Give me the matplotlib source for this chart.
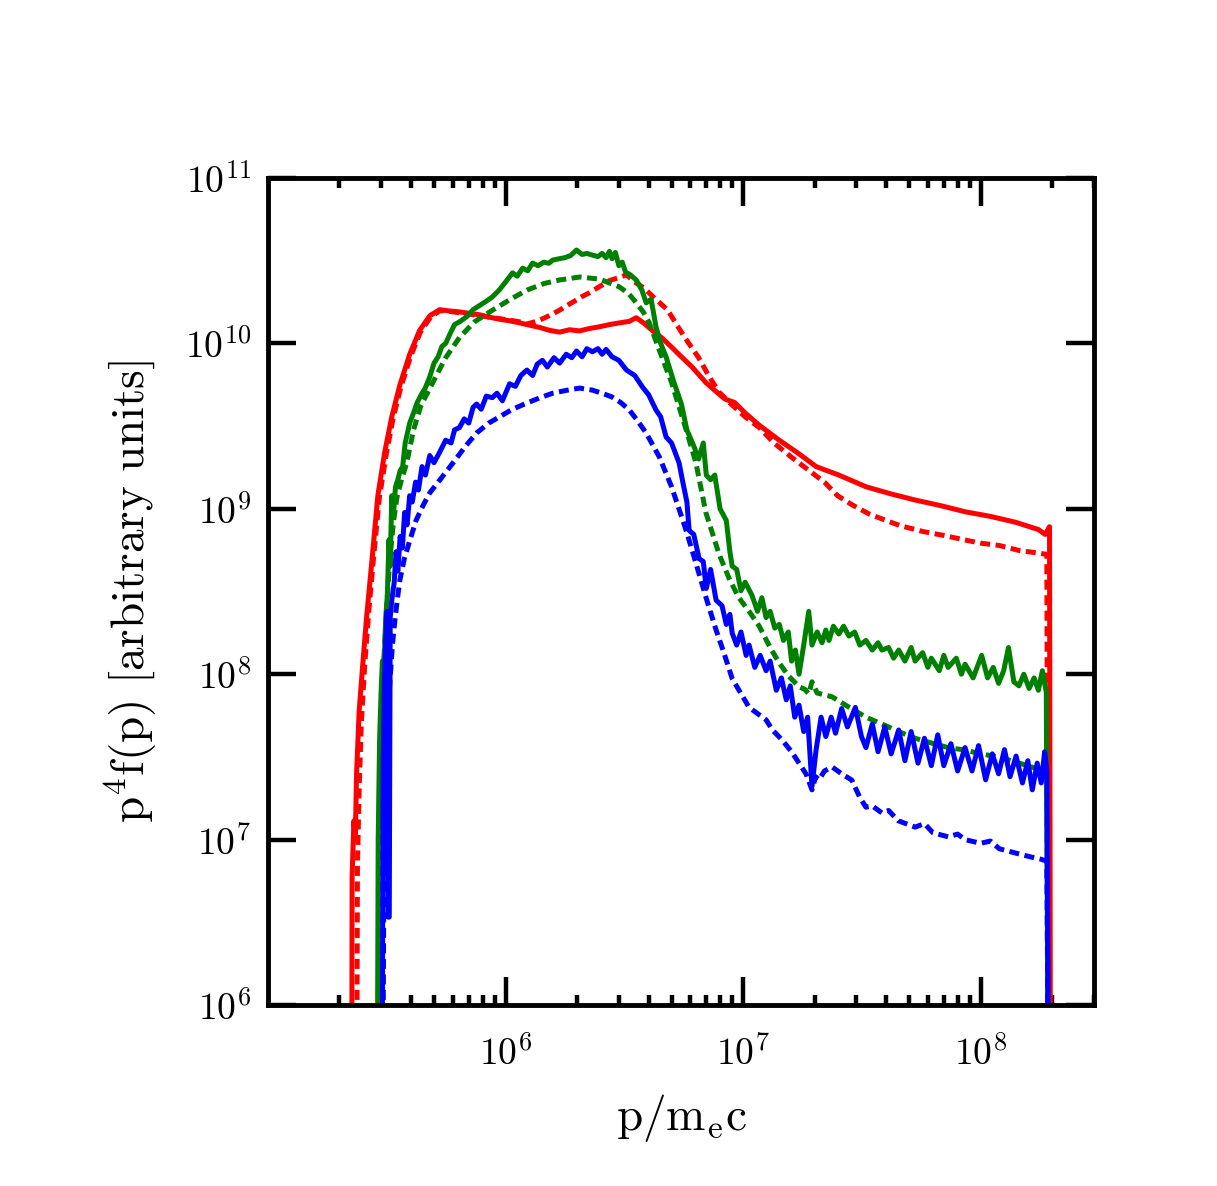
import numpy as np
import matplotlib
matplotlib.use('Agg')
import matplotlib.pyplot as plt
from matplotlib.ticker import LogLocator, NullLocator

# momentum grid (p/m_e c) and p^4 f(p) for each run
rs_p = [2.25e5, 2.26e5, 2.30e5, 2.33e5, 2.36e5, 2.42e5, 2.50e5, 2.60e5, 2.74e5, 2.90e5,
        3.10e5, 3.32e5, 3.59e5, 3.95e5, 4.35e5, 4.80e5, 5.28e5, 5.82e5, 6.41e5, 7.06e5,
        7.78e5, 8.57e5, 9.44e5, 1.04e6, 1.15e6, 1.26e6, 1.39e6, 1.53e6, 1.69e6, 1.86e6,
        2.05e6, 2.25e6, 2.48e6, 2.74e6, 3.01e6, 3.32e6, 3.55e6, 3.84e6, 4.14e6, 4.55e6,
        5.0e6, 5.5e6, 6.1e6, 6.97e6, 7.6e6, 8.4e6, 9.2e6, 1.02e7, 1.17e7, 1.42e7,
        1.72e7, 2.03e7, 2.53e7, 3.29e7, 4.2e7, 5.3e7, 6.7e7, 8.6e7, 1.1e8, 1.4e8,
        1.75e8, 1.87e8, 1.95e8, 1.97e8]
rs_f = [1e5, 6.0e6, 1.3e7, 1.0e7, 2.5e7, 6.0e7, 1.1e8, 2.2e8, 4.9e8, 1.2e9,
        2.2e9, 3.6e9, 5.6e9, 8.6e9, 1.2e10, 1.47e10, 1.6e10, 1.57e10, 1.55e10, 1.52e10,
        1.49e10, 1.44e10, 1.40e10, 1.37e10, 1.33e10, 1.29e10, 1.25e10, 1.20e10, 1.17e10, 1.21e10,
        1.19e10, 1.23e10, 1.26e10, 1.30e10, 1.33e10, 1.36e10, 1.43e10, 1.32e10, 1.20e10, 1.08e10,
        9.5e9, 8.3e9, 7.2e9, 5.8e9, 5.2e9, 4.6e9, 4.4e9, 3.8e9, 3.2e9, 2.6e9,
        2.15e9, 1.8e9, 1.6e9, 1.36e9, 1.23e9, 1.13e9, 1.05e9, 9.6e8, 9.0e8, 8.3e8,
        7.5e8, 7.0e8, 7.8e8, 1e5]

rd_p = [2.36e5, 2.38e5, 2.42e5, 2.47e5, 2.55e5, 2.65e5, 2.78e5, 2.94e5, 3.14e5, 3.36e5,
        3.62e5, 3.98e5, 4.38e5, 4.83e5, 5.3e5, 5.85e5, 6.45e5, 7.1e5, 7.8e5, 8.6e5,
        9.5e5, 1.05e6, 1.15e6, 1.23e6, 1.35e6, 1.45e6, 1.57e6, 1.69e6, 1.82e6, 1.95e6,
        2.1e6, 2.25e6, 2.48e6, 2.74e6, 3.0e6, 3.23e6, 3.5e6, 3.85e6, 4.2e6, 4.8e6,
        5.65e6, 6.5e6, 7.2e6, 7.9e6, 8.9e6, 1.02e7, 1.17e7, 1.35e7, 1.6e7, 1.9e7,
        2.2e7, 2.5e7, 2.9e7, 3.4e7, 4.0e7, 4.6e7, 5.7e7, 7.0e7, 8.5e7, 1.0e8,
        1.2e8, 1.45e8, 1.75e8, 1.9e8, 1.93e8]
rd_f = [1e5, 7.0e6, 2.0e7, 5.0e7, 1.1e8, 2.3e8, 5.0e8, 1.15e9, 2.1e9, 3.5e9,
        5.4e9, 8.3e9, 1.17e10, 1.44e10, 1.58e10, 1.56e10, 1.53e10, 1.5e10, 1.47e10, 1.44e10,
        1.41e10, 1.38e10, 1.35e10, 1.31e10, 1.36e10, 1.42e10, 1.5e10, 1.59e10, 1.7e10, 1.8e10,
        1.92e10, 2.02e10, 2.2e10, 2.4e10, 2.5e10, 2.6e10, 2.35e10, 2.15e10, 1.9e10, 1.6e10,
        1.1e10, 8.2e9, 6.3e9, 5.1e9, 4.3e9, 3.6e9, 3.1e9, 2.5e9, 2.05e9, 1.7e9,
        1.45e9, 1.2e9, 1.05e9, 9.3e8, 8.5e8, 7.9e8, 7.3e8, 6.9e8, 6.5e8, 6.2e8,
        6.0e8, 5.6e8, 5.4e8, 5.3e8, 1e5]

gs_p = [2.88e5, 2.91e5, 2.95e5, 2.99e5, 3.03e5, 3.08e5, 3.13e5, 3.18e5, 3.23e5, 3.27e5,
        3.32e5, 3.37e5, 3.44e5, 3.52e5, 3.60e5, 3.69e5, 3.78e5, 3.87e5, 3.95e5, 4.10e5,
        4.25e5, 4.45e5, 4.60e5, 4.80e5, 5.0e5, 5.2e5, 5.4e5, 5.6e5, 5.85e5, 6.1e5,
        6.4e5, 6.86e5, 7.3e5, 7.8e5, 8.3e5, 8.8e5, 9.4e5, 1.0e6, 1.07e6, 1.12e6,
        1.18e6, 1.24e6, 1.30e6, 1.37e6, 1.45e6, 1.52e6, 1.58e6, 1.68e6, 1.78e6, 1.88e6,
        1.99e6, 2.1e6, 2.2e6, 2.32e6, 2.45e6, 2.55e6, 2.65e6, 2.74e6, 2.81e6, 2.9e6,
        3.0e6, 3.1e6, 3.2e6, 3.35e6, 3.55e6, 3.75e6, 3.91e6, 4.1e6, 4.3e6, 4.5e6,
        4.74e6, 5.1e6, 5.5e6, 5.8e6, 6.2e6, 6.5e6, 6.8e6, 7.0e6, 7.3e6, 7.6e6,
        8.0e6, 8.5e6, 8.8e6, 9.0e6, 9.4e6, 9.8e6, 1.02e7, 1.09e7, 1.15e7, 1.20e7,
        1.25e7, 1.30e7, 1.36e7, 1.42e7, 1.48e7, 1.55e7, 1.60e7, 1.66e7, 1.72e7, 1.80e7,
        1.89e7, 1.95e7, 2.05e7, 2.15e7, 2.23e7, 2.3e7, 2.4e7, 2.53e7, 2.65e7, 2.79e7,
        2.95e7, 3.1e7, 3.29e7, 3.5e7, 3.7e7, 3.84e7, 4.1e7, 4.3e7, 4.52e7, 4.8e7,
        5.1e7, 5.3e7, 5.7e7, 6.0e7, 6.2e7, 6.7e7, 7.0e7, 7.3e7, 7.9e7, 8.3e7,
        8.6e7, 9.3e7, 1.01e8, 1.07e8, 1.13e8, 1.19e8, 1.25e8, 1.31e8, 1.38e8, 1.45e8,
        1.52e8, 1.6e8, 1.68e8, 1.75e8, 1.82e8, 1.89e8, 1.93e8]
gs_f = [1e5, 1.0e7, 4.0e7, 7.5e7, 1.2e8, 1.1e8, 2.2e8, 3.0e8, 6.5e8, 4.5e8,
        1.2e9, 9.0e8, 1.35e9, 1.5e9, 1.7e9, 1.8e9, 2.5e9, 2.9e9, 3.3e9, 3.8e9,
        4.4e9, 5.0e9, 5.4e9, 6.3e9, 7.6e9, 8.3e9, 9.6e9, 1.0e10, 1.15e10, 1.3e10,
        1.35e10, 1.45e10, 1.6e10, 1.7e10, 1.8e10, 1.91e10, 2.1e10, 2.35e10, 2.67e10, 2.55e10,
        2.85e10, 2.75e10, 3.06e10, 2.95e10, 3.1e10, 3.05e10, 3.19e10, 3.25e10, 3.3e10, 3.4e10,
        3.67e10, 3.45e10, 3.5e10, 3.42e10, 3.35e10, 3.5e10, 3.3e10, 3.6e10, 3.25e10, 3.55e10,
        2.95e10, 3.1e10, 2.7e10, 2.6e10, 2.42e10, 2.1e10, 1.76e10, 1.85e10, 1.26e10, 1.0e10,
        8.3e9, 5.9e9, 4.3e9, 3.0e9, 2.4e9, 2.0e9, 2.5e9, 1.6e9, 1.5e9, 1.6e9,
        1.0e9, 8.5e8, 5.5e8, 4.5e8, 4.3e8, 3.2e8, 3.6e8, 3.0e8, 2.4e8, 2.9e8,
        2.2e8, 2.4e8, 1.9e8, 2.0e8, 1.6e8, 1.8e8, 1.2e8, 1.4e8, 1.0e8, 1.5e8,
        2.4e8, 1.5e8, 1.8e8, 1.55e8, 1.85e8, 1.6e8, 1.95e8, 1.75e8, 1.95e8, 1.7e8,
        1.8e8, 1.5e8, 1.6e8, 1.4e8, 1.55e8, 1.4e8, 1.45e8, 1.25e8, 1.4e8, 1.2e8,
        1.45e8, 1.2e8, 1.35e8, 1.1e8, 1.25e8, 1.05e8, 1.3e8, 1.1e8, 1.25e8, 1.0e8,
        1.15e8, 9.5e7, 1.3e8, 9.5e7, 1.1e8, 8.8e7, 1.05e8, 1.45e8, 9.0e7, 8.5e7,
        1.0e8, 8.2e7, 9.5e7, 8.0e7, 1.05e8, 7.8e7, 1e5]

gd_p = [2.90e5, 2.93e5, 2.97e5, 3.01e5, 3.05e5, 3.12e5, 3.19e5, 3.28e5, 3.38e5, 3.50e5,
        3.65e5, 3.84e5, 4.1e5, 4.4e5, 4.94e5, 5.6e5, 6.41e5, 7.4e5, 8.82e5, 1.05e6,
        1.23e6, 1.45e6, 1.69e6, 2.05e6, 2.48e6, 3.01e6, 3.3e6, 3.55e6, 3.8e6, 4.03e6,
        4.44e6, 5.0e6, 5.76e6, 6.33e6, 6.97e6, 7.93e6, 8.8e6, 9.6e6, 1.06e7, 1.17e7,
        1.3e7, 1.42e7, 1.55e7, 1.72e7, 1.82e7, 1.89e7, 1.95e7, 2.05e7, 2.37e7, 2.8e7,
        3.29e7, 3.84e7, 4.52e7, 5.3e7, 6.2e7, 7.3e7, 8.6e7, 1.0e8, 1.19e8, 1.4e8,
        1.64e8, 1.9e8, 1.94e8]
gd_f = [1e5, 8e6, 3e7, 6e7, 1.0e8, 1.8e8, 3.2e8, 5.5e8, 8.5e8, 1.2e9,
        1.5e9, 1.9e9, 3.0e9, 4.2e9, 5.8e9, 8.2e9, 1.09e10, 1.35e10, 1.59e10, 1.85e10,
        2.1e10, 2.3e10, 2.42e10, 2.52e10, 2.45e10, 2.2e10, 2.0e10, 1.76e10, 1.55e10, 1.33e10,
        9.1e9, 5.8e9, 3.0e9, 1.9e9, 9.5e8, 5.3e8, 3.7e8, 2.9e8, 2.4e8, 1.95e8,
        1.45e8, 1.17e8, 9.8e7, 8.4e7, 8.1e7, 7.6e7, 9.0e7, 7.7e7, 7.3e7, 6.3e7,
        5.5e7, 5.0e7, 4.5e7, 4.1e7, 3.84e7, 3.6e7, 3.48e7, 3.3e7, 3.16e7, 2.95e7,
        2.75e7, 2.56e7, 1e5]

bs_p = [3.02e5, 3.05e5, 3.09e5, 3.13e5, 3.17e5, 3.20e5, 3.24e5, 3.27e5, 3.32e5, 3.40e5,
        3.46e5, 3.52e5, 3.60e5, 3.68e5, 3.76e5, 3.85e5, 3.95e5, 4.05e5, 4.18e5, 4.30e5,
        4.45e5, 4.6e5, 4.8e5, 5.0e5, 5.28e5, 5.6e5, 5.9e5, 6.1e5, 6.4e5, 6.7e5,
        7.0e5, 7.3e5, 7.55e5, 7.9e5, 8.3e5, 8.8e5, 9.2e5, 9.7e5, 1.04e6, 1.10e6,
        1.16e6, 1.23e6, 1.30e6, 1.36e6, 1.43e6, 1.5e6, 1.6e6, 1.69e6, 1.8e6, 1.9e6,
        1.99e6, 2.1e6, 2.2e6, 2.32e6, 2.45e6, 2.55e6, 2.65e6, 2.81e6, 3.0e6, 3.23e6,
        3.5e6, 3.77e6, 4.0e6, 4.3e6, 4.5e6, 4.74e6, 5.0e6, 5.38e6, 5.55e6, 5.8e6,
        5.93e6, 6.2e6, 6.53e6, 6.8e6, 7.0e6, 7.3e6, 7.7e6, 8.15e6, 8.5e6, 8.8e6,
        9.0e6, 9.4e6, 9.8e6, 1.03e7, 1.06e7, 1.12e7, 1.18e7, 1.25e7, 1.30e7, 1.38e7,
        1.45e7, 1.52e7, 1.58e7, 1.65e7, 1.72e7, 1.80e7, 1.87e7, 1.95e7, 2.03e7, 2.13e7,
        2.23e7, 2.35e7, 2.45e7, 2.6e7, 2.75e7, 2.97e7, 3.15e7, 3.29e7, 3.5e7, 3.7e7,
        3.95e7, 4.2e7, 4.52e7, 4.8e7, 5.1e7, 5.45e7, 5.8e7, 6.2e7, 6.6e7, 7.0e7,
        7.5e7, 8.0e7, 8.6e7, 9.2e7, 9.8e7, 1.05e8, 1.12e8, 1.19e8, 1.26e8, 1.33e8,
        1.41e8, 1.5e8, 1.58e8, 1.65e8, 1.73e8, 1.8e8, 1.86e8, 1.9e8, 1.94e8]
bs_f = [1e5, 2.5e7, 9e7, 1.6e8, 2.4e8, 3.4e6, 3.4e6, 2.2e8, 2.8e8, 3.6e8,
        5.5e8, 4.2e8, 6.8e8, 5.8e8, 9.5e8, 8.0e8, 1.2e9, 1.1e9, 1.45e9, 1.3e9,
        1.8e9, 1.6e9, 2.1e9, 1.9e9, 2.2e9, 2.6e9, 2.5e9, 3.0e9, 3.1e9, 3.5e9,
        3.3e9, 4.1e9, 4.3e9, 4.0e9, 4.8e9, 4.7e9, 5.0e9, 4.5e9, 5.7e9, 5.5e9,
        6.4e9, 6.9e9, 6.4e9, 7.5e9, 7.9e9, 7.2e9, 8.2e9, 7.6e9, 8.6e9, 8.2e9,
        9.0e9, 8.3e9, 9.3e9, 8.9e9, 9.3e9, 8.6e9, 9.2e9, 8.3e9, 7.9e9, 6.9e9,
        6.4e9, 5.45e9, 4.9e9, 3.96e9, 3.6e9, 2.72e9, 2.5e9, 1.89e9, 1.5e9, 1.1e9,
        7.4e8, 7.0e8, 5.0e8, 4.8e8, 3.3e8, 4.3e8, 2.8e8, 2.6e8, 2.0e8, 2.3e8,
        1.77e8, 1.5e8, 1.8e8, 1.3e8, 1.5e8, 1.1e8, 1.3e8, 1.05e8, 1.2e8, 8.0e7,
        9.5e7, 7.0e7, 8.5e7, 5.5e7, 6.5e7, 4.5e7, 5.5e7, 2.1e7, 3.5e7, 5.5e7,
        4.2e7, 5.5e7, 4.4e7, 6.2e7, 4.8e7, 6.3e7, 4.2e7, 3.6e7, 5.0e7, 3.4e7,
        4.8e7, 3.3e7, 4.6e7, 3.0e7, 4.5e7, 2.9e7, 4.1e7, 2.8e7, 4.3e7, 2.8e7,
        3.8e7, 2.6e7, 3.6e7, 2.6e7, 3.7e7, 2.3e7, 3.3e7, 2.5e7, 3.5e7, 2.4e7,
        3.2e7, 2.2e7, 3.0e7, 2.0e7, 2.9e7, 2.2e7, 3.4e7, 2.6e7, 1e5]

bd_p = [3.04e5, 3.07e5, 3.11e5, 3.15e5, 3.20e5, 3.26e5, 3.34e5, 3.42e5, 3.50e5, 3.59e5,
        3.75e5, 3.95e5, 4.2e5, 4.5e5, 4.8e5, 5.3e5, 6.0e5, 6.8e5, 7.55e5, 8.5e5,
        9.4e5, 1.07e6, 1.23e6, 1.4e6, 1.58e6, 1.8e6, 2.05e6, 2.32e6, 2.55e6, 2.81e6,
        3.05e6, 3.32e6, 3.6e6, 3.91e6, 4.44e6, 5.0e6, 5.76e6, 6.33e6, 6.97e6, 7.7e6,
        8.3e6, 9.0e6, 1.06e7, 1.25e7, 1.33e7, 1.46e7, 1.6e7, 1.72e7, 1.84e7, 1.95e7,
        2.02e7, 2.09e7, 2.2e7, 2.37e7, 2.6e7, 2.87e7, 3.1e7, 3.29e7, 3.5e7, 3.84e7,
        4.1e7, 4.5e7, 5.3e7, 5.8e7, 6.3e7, 7.3e7, 8.0e7, 8.6e7, 1.0e8, 1.1e8,
        1.2e8, 1.4e8, 1.6e8, 1.8e8, 1.9e8, 1.94e8]
bd_f = [1e5, 4.4e6, 1.5e7, 3.0e7, 6.0e7, 9.0e7, 1.5e8, 2.1e8, 2.8e8, 3.7e8,
        5.0e8, 6.4e8, 8.5e8, 1.05e9, 1.25e9, 1.5e9, 1.89e9, 2.4e9, 2.87e9, 3.3e9,
        3.59e9, 4.0e9, 4.36e9, 4.7e9, 5.0e9, 5.2e9, 5.37e9, 5.22e9, 5.0e9, 4.74e9,
        4.4e9, 3.96e9, 3.4e9, 2.87e9, 2.06e9, 1.36e9, 7.4e8, 4.7e8, 2.93e8, 1.85e8,
        1.35e8, 9.4e7, 6.3e7, 5.3e7, 4.6e7, 4.0e7, 3.4e7, 2.9e7, 2.5e7, 2.0e7,
        2.4e7, 2.3e7, 2.6e7, 2.75e7, 2.5e7, 2.29e7, 1.8e7, 1.57e7, 1.6e7, 1.45e7,
        1.5e7, 1.3e7, 1.19e7, 1.25e7, 1.1e7, 1.04e7, 1.08e7, 1.0e7, 9.5e6, 9.8e6,
        8.8e6, 8.3e6, 7.9e6, 7.6e6, 7.4e6, 1e5]

plt.rcParams['font.family'] = 'serif'
plt.rcParams['font.serif'] = ['cmr10', 'DejaVu Serif']
plt.rcParams['mathtext.fontset'] = 'cm'
plt.rcParams['axes.formatter.use_mathtext'] = True
plt.rcParams['axes.unicode_minus'] = False

fig = plt.figure(figsize=(12.17, 11.86), dpi=100)
ax = fig.add_axes([0.2202, 0.1526, 0.6787, 0.6973])

lw = 3.6
dash = (0, (2.0, 1.1))
ax.plot(rs_p, rs_f, color='red', lw=lw, ls='-')
ax.plot(rd_p, rd_f, color='red', lw=lw, ls=dash)
ax.plot(gs_p, gs_f, color='green', lw=lw, ls='-')
ax.plot(gd_p, gd_f, color='green', lw=lw, ls=dash)
ax.plot(bs_p, bs_f, color='blue', lw=lw, ls='-')
ax.plot(bd_p, bd_f, color='blue', lw=lw, ls=dash)

ax.set_xscale('log')
ax.set_yscale('log')
ax.set_xlim(1e5, 3e8)
ax.set_ylim(1e6, 1e11)
ax.set_xticks([1e6, 1e7, 1e8])
ax.xaxis.set_minor_locator(LogLocator(base=10, subs=np.arange(2, 10)))
ax.set_yticks([1e6, 1e7, 1e8, 1e9, 1e10, 1e11])
ax.yaxis.set_minor_locator(NullLocator())

for s in ax.spines.values():
    s.set_linewidth(3.5)
ax.tick_params(which='major', direction='in', length=20, width=3.2, top=True, right=True, labelsize=27)
ax.tick_params(which='minor', direction='in', length=7, width=3.2, top=True, right=True)
ax.tick_params(axis='x', which='major', pad=22)
ax.tick_params(axis='y', which='major', pad=12)

ax.set_xlabel(r'$\mathrm{p/m_ec}$', fontsize=34, labelpad=14)
ax.set_ylabel(r'$\mathrm{p^4f(p)\ [arbitrary\ units]}$', fontsize=34, labelpad=18)

fig.savefig('out.png', dpi=100)
